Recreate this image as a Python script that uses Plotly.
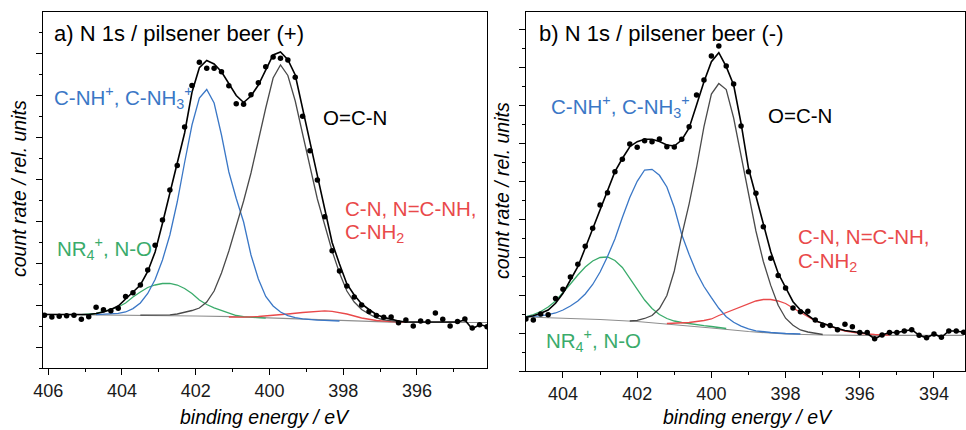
import plotly.graph_objects as go

# ---------------- panel a) pilsener beer (+) ----------------
A_E = [406.1, 405.9, 405.7, 405.5, 405.3, 405.1, 404.9, 404.7, 404.5, 404.3, 404.1,
       403.9, 403.7, 403.5, 403.3, 403.1, 402.9, 402.7, 402.5, 402.3, 402.1,
       401.9, 401.7, 401.5, 401.3, 401.1, 400.9, 400.7, 400.5, 400.3, 400.1,
       399.9, 399.7, 399.5, 399.3, 399.1, 398.9, 398.7, 398.5, 398.3, 398.1,
       397.9, 397.7, 397.5, 397.3, 397.1, 396.9, 396.7, 396.5, 396.3, 396.1,
       395.9, 395.7, 395.5, 395.3, 395.1, 394.9, 394.7, 394.5, 394.3, 394.1]
A_counts = [52.7, 51.0, 51.8, 52.2, 52.8, 48.7, 51.3, 60.7, 58.3, 57.3, 59.7,
            71.5, 75.2, 83.0, 98.0, 122.7, 148.0, 178.0, 202.5, 241.0, 282.5,
            305.8, 299.8, 299.7, 296.3, 282.2, 264.3, 263.7, 273.3, 285.3, 301.3,
            311.0, 309.7, 308.0, 290.7, 251.7, 217.3, 188.0, 151.3, 117.3, 97.0,
            82.0, 71.0, 63.0, 56.5, 52.5, 50.7, 51.0, 45.3, 48.0, 42.0,
            47.0, 46.3, 55.0, 48.7, 42.0, 46.5, 49.0, 40.0, 43.3, 41.3]
A_envelope = [53.5, 53.5, 53.5, 53.5, 53.3, 53.2, 53.5, 54.5, 56.0, 58.5, 62.0,
              69.0, 76.0, 83.0, 96.5, 116.0, 144.7, 174.7, 203.2, 235.0, 275.7,
              300.3, 307.5, 304.0, 296.2, 284.0, 272.5, 265.5, 272.0, 283.0, 298.0,
              313.0, 316.0, 308.4, 293.0, 258.3, 226.0, 192.3, 159.0, 125.5, 104.0,
              84.0, 73.0, 64.0, 58.5, 53.5, 50.6, 48.5, 47.0, 46.0, 46.0,
              46.0, 46.0, 46.0, 46.0, 46.0, 46.0, 48.0, 39.0, 43.5, 41.5]

A_bg_E = [406.1, 404.5, 403.0, 402.0, 401.0, 400.0, 399.0, 398.0, 397.0, 396.5, 394.1]
A_bg = [53.7, 53.3, 52.6, 52.0, 51.3, 50.0, 48.5, 47.0, 46.0, 45.7, 45.5]

A_blue_E = [404.7, 404.5, 404.3, 404.1, 403.9, 403.7, 403.5, 403.3, 403.1, 402.9, 402.7,
            402.5, 402.3, 402.1, 401.9, 401.7, 401.5, 401.3, 401.1, 400.9, 400.7,
            400.5, 400.3, 400.1, 399.9, 399.7, 399.5, 399.3, 399.1, 398.9, 398.7,
            398.5, 398.3, 398.1]
A_blue = [53.4, 53.6, 54.0, 54.6, 56.0, 59.4, 65.0, 74.5, 88.5, 108.0, 133.0,
          166.0, 205.5, 243.0, 270.0, 278.5, 265.0, 233.0, 196.0, 169.5, 146.0,
          113.0, 89.0, 71.5, 62.0, 56.0, 52.4, 50.4, 49.2, 48.4, 47.9,
          47.6, 47.3, 47.0]

A_gray_E = [403.5, 403.1, 402.7, 402.5, 402.3, 402.1, 401.9, 401.7, 401.5, 401.3, 401.1,
            400.9, 400.7, 400.5, 400.3, 400.1, 399.9, 399.7, 399.5, 399.3, 399.1,
            398.9, 398.7, 398.5, 398.3, 398.1, 397.9, 397.7, 397.5, 397.3, 397.1,
            396.9, 396.7, 396.5, 396.3]
A_gray = [52.9, 52.7, 53.2, 54.0, 55.5, 57.5, 60.0, 66.0, 77.0, 95.0, 117.0,
          141.0, 167.0, 195.0, 228.0, 260.0, 290.0, 303.0, 292.5, 267.0, 234.0,
          201.0, 169.0, 143.0, 117.0, 95.0, 77.0, 66.0, 58.5, 54.0, 50.2,
          48.2, 47.0, 46.3, 45.8]

A_green_E = [405.1, 404.9, 404.7, 404.5, 404.3, 404.1, 403.9, 403.7, 403.5, 403.3, 403.1,
             402.9, 402.7, 402.5, 402.3, 402.1, 401.9, 401.7, 401.5, 401.3, 401.1,
             400.9, 400.7, 400.5, 400.3, 400.1]
A_green = [53.3, 53.6, 54.5, 56.5, 58.5, 61.0, 65.0, 71.0, 76.0, 80.5, 83.0,
           84.5, 84.7, 83.0, 79.5, 74.5, 68.0, 63.5, 60.2, 57.5, 54.5,
           52.5, 51.3, 50.6, 50.2, 49.8]

A_red_E = [401.1, 400.7, 400.3, 399.9, 399.5, 399.1, 398.7, 398.5, 398.3, 397.9, 397.5,
           397.1, 396.7, 396.3]
A_red = [51.0, 50.8, 51.5, 52.5, 54.0, 55.5, 57.0, 57.2, 56.7, 54.0, 50.0,
         47.5, 46.3, 45.7]

# ---------------- panel b) pilsener beer (-) ----------------
B_E = [405.0, 404.8, 404.6, 404.4, 404.2, 404.0, 403.8, 403.6, 403.4, 403.2,
       403.0, 402.8, 402.6, 402.4, 402.2, 402.0, 401.8, 401.6, 401.4, 401.2,
       401.0, 400.8, 400.6, 400.4, 400.2, 400.0, 399.8, 399.6, 399.4, 399.2,
       399.0, 398.8, 398.6, 398.4, 398.2, 398.0, 397.8, 397.6, 397.4, 397.2,
       397.0, 396.8, 396.6, 396.4, 396.2, 396.0, 395.8, 395.6, 395.4, 395.2,
       395.0, 394.8, 394.6, 394.4, 394.2, 394.0, 393.8, 393.6, 393.4, 393.2]
B_counts = [52.0, 51.0, 57.0, 56.3, 72.5, 81.8, 94.0, 106.8, 124.7, 142.7,
            166.0, 178.3, 199.3, 211.7, 227.0, 223.7, 230.3, 229.3, 232.0, 224.3,
            224.0, 231.7, 244.3, 276.0, 291.0, 315.0, 325.0, 305.0, 287.0, 245.0,
            199.3, 177.7, 144.3, 112.7, 95.5, 83.0, 63.0, 59.3, 59.7, 51.0,
            45.7, 45.5, 41.3, 46.7, 44.3, 38.5, 38.5, 32.3, 36.0, 38.5,
            38.5, 40.0, 41.3, 35.7, 33.2, 37.0, 33.7, 40.0, 40.0, 38.7]
B_envelope = [53.7, 55.3, 57.7, 61.0, 67.7, 77.7, 91.0, 104.3, 123.0, 142.5,
              161.5, 181.0, 199.3, 212.5, 224.3, 229.3, 231.7, 231.7, 229.5, 226.0,
              225.0, 231.0, 243.0, 266.0, 289.3, 309.3, 318.3, 304.3, 286.0, 247.7,
              202.7, 175.0, 146.0, 119.3, 97.7, 82.7, 69.3, 61.0, 56.0, 50.3,
              47.7, 45.0, 42.5, 40.5, 39.3, 38.5, 37.5, 32.3, 36.0, 38.5,
              38.5, 40.0, 41.3, 35.7, 33.2, 37.0, 33.7, 40.0, 40.0, 38.7]

B_bg_E = [405.0, 404.0, 403.0, 402.0, 401.0, 400.0, 399.0, 398.0, 397.0, 396.0, 393.2]
B_bg = [54.0, 53.0, 51.5, 49.5, 46.5, 43.0, 39.5, 37.0, 36.0, 35.7, 35.7]

B_blue_E = [405.0, 404.8, 404.6, 404.4, 404.2, 404.0, 403.8, 403.6, 403.4, 403.2,
            403.0, 402.8, 402.6, 402.4, 402.2, 402.0, 401.8, 401.6, 401.4, 401.2,
            401.0, 400.8, 400.6, 400.4, 400.2, 400.0, 399.8, 399.6, 399.4, 399.2,
            399.0, 398.8, 398.6, 398.4, 398.0, 397.6]
B_blue = [54.3, 54.6, 55.2, 56.3, 58.0, 61.0, 65.0, 70.0, 77.0, 86.5,
          99.0, 114.5, 132.0, 153.5, 173.5, 189.7, 201.0, 201.7, 195.7, 184.0,
          163.5, 136.5, 116.4, 98.5, 84.5, 73.3, 62.7, 54.3, 48.7, 44.8,
          42.1, 40.2, 39.3, 38.5, 37.5, 37.0]

B_gray_E = [402.2, 402.0, 401.8, 401.6, 401.4, 401.2, 401.0, 400.8, 400.6, 400.4,
            400.2, 400.0, 399.8, 399.6, 399.4, 399.2, 399.0, 398.8, 398.6, 398.4,
            398.2, 398.0, 397.8, 397.6, 397.4, 397.2, 397.0]
B_gray = [50.0, 50.7, 52.5, 55.5, 62.5, 75.5, 100.0, 135.5, 167.2, 203.5,
          244.4, 277.0, 287.5, 281.5, 253.0, 215.5, 175.7, 140.0, 109.5, 85.6,
          65.7, 52.8, 45.8, 41.0, 39.0, 37.5, 36.5]

B_green_E = [405.0, 404.8, 404.6, 404.4, 404.2, 404.0, 403.8, 403.6, 403.4, 403.2,
             403.0, 402.8, 402.6, 402.4, 402.2, 402.0, 401.8, 401.6, 401.4, 401.2,
             401.0, 400.8, 400.6, 400.4, 400.2, 400.0, 399.6]
B_green = [54.3, 56.5, 59.5, 64.0, 70.0, 78.0, 87.0, 96.0, 104.0, 110.0,
           113.5, 114.0, 110.5, 103.5, 93.0, 81.5, 71.0, 62.5, 56.5, 52.5,
           50.0, 48.5, 47.2, 46.2, 45.3, 44.5, 42.5]

B_red_E = [401.2, 400.6, 400.2, 400.0, 399.8, 399.6, 399.4, 399.2, 399.0, 398.8,
           398.6, 398.4, 398.2, 398.0, 397.8, 397.6, 397.4, 397.2, 397.0, 396.8,
           396.6, 396.4, 396.2, 396.0, 395.6, 395.2]
B_red = [47.5, 48.5, 50.5, 52.0, 55.5, 58.5, 61.5, 64.5, 67.5, 70.0,
         71.5, 71.5, 70.0, 67.5, 63.0, 58.5, 54.0, 50.0, 47.5, 44.5,
         42.0, 40.0, 38.7, 37.7, 36.5, 36.0]

# ---------------- styling ----------------
W, H = 966, 430
FONT = "Liberation Sans, Arial, sans-serif"
C_BLUE = "#3a77c6"
C_GREEN = "#3aab6b"
C_RED = "#e9494a"
C_DARK = "#4a4a4a"
C_BG = "#8e8e8e"

fig = go.Figure()


def add_panel(xa, ya, bgE, bg, green_E, green, red_E, red, blue_E, blue,
              gray_E, gray, E, env, counts):
    ax = dict(xaxis=xa, yaxis=ya, mode="lines", showlegend=False, hoverinfo="skip")
    fig.add_trace(go.Scatter(x=bgE, y=bg, line=dict(color=C_BG, width=1.2), **ax))
    fig.add_trace(go.Scatter(x=green_E, y=green, line=dict(color=C_GREEN, width=1.3), **ax))
    fig.add_trace(go.Scatter(x=red_E, y=red, line=dict(color=C_RED, width=1.3), **ax))
    fig.add_trace(go.Scatter(x=blue_E, y=blue, line=dict(color=C_BLUE, width=1.3), **ax))
    fig.add_trace(go.Scatter(x=gray_E, y=gray, line=dict(color=C_DARK, width=1.3), **ax))
    fig.add_trace(go.Scatter(x=E, y=env, line=dict(color="black", width=1.6), **ax))
    fig.add_trace(go.Scatter(x=E, y=counts, xaxis=xa, yaxis=ya, mode="markers",
                             marker=dict(color="black", size=5.5), showlegend=False,
                             hoverinfo="skip"))


add_panel("x", "y", A_bg_E, A_bg, A_green_E, A_green, A_red_E, A_red,
          A_blue_E, A_blue, A_gray_E, A_gray, A_E, A_envelope, A_counts)
add_panel("x2", "y2", B_bg_E, B_bg, B_green_E, B_green, B_red_E, B_red,
          B_blue_E, B_blue, B_gray_E, B_gray, B_E, B_envelope, B_counts)


def xaxis_cfg(dom, rng):
    return dict(domain=dom, range=rng, showgrid=False, zeroline=False, automargin=False,
                showline=True, mirror=True, linecolor="black", linewidth=1.3,
                ticks="outside", ticklen=6, tickwidth=1.2, tickcolor="black",
                tick0=400, dtick=2,
                minor=dict(ticks="outside", ticklen=3, tickwidth=1.1,
                           tickcolor="black", dtick=1, showgrid=False),
                tickfont=dict(family=FONT, size=18, color="#1a1a1a"))


def yaxis_cfg(dom, rng, t0, dt):
    return dict(domain=dom, range=rng, showgrid=False, zeroline=False, automargin=False,
                showline=True, mirror=True, linecolor="black", linewidth=1.3,
                ticks="outside", ticklen=6, tickwidth=1.2, tickcolor="black",
                tick0=t0, dtick=dt, showticklabels=False,
                minor=dict(ticks="outside", ticklen=3, tickwidth=1.1,
                           tickcolor="black", dtick=dt / 2, showgrid=False))


fig.update_layout(
    width=W, height=H,
    margin=dict(l=0, r=0, t=0, b=0, pad=0, autoexpand=False),
    paper_bgcolor="white", plot_bgcolor="white",
    xaxis=xaxis_cfg([43 / W, 487 / W], [406.14, 394.1]),
    yaxis=yaxis_cfg([1 - 368 / H, 1 - 12 / H], [0, 356], 21, 42),
    xaxis2=dict(xaxis_cfg([526 / W, 965 / W], [404.997, 393.164]), anchor="y2"),
    yaxis2=dict(yaxis_cfg([1 - 371 / H, 1 - 12 / H], [0, 359], 0, 38), anchor="x2"),
)


def note(px, py, text, color="black", size=20.5, anchor="left", angle=0, italic=False):
    fig.add_annotation(x=px / W, y=1 - py / H, xref="paper", yref="paper",
                       text=text, showarrow=False, xanchor=anchor, yanchor="middle",
                       textangle=angle, borderpad=0,
                       font=dict(family=FONT, size=size, color=color,
                                 style="italic" if italic else "normal"))


# panel a labels
note(53, 33, "a) N 1s / pilsener beer (+)", size=22)
note(53, 97, "C-NH<sup>+</sup>, C-NH<sub>3</sub><sup>+</sup>", C_BLUE)
note(322, 117, "O=C-N")
note(344, 208, "C-N, N=C-NH,", C_RED)
note(344, 233, "C-NH<sub>2</sub>", C_RED)
note(56, 248, "NR<sub>4</sub><sup>+</sup>, N-O", C_GREEN)

# panel b labels
note(538, 33, "b) N 1s / pilsener beer (-)", size=22)
note(550, 106, "C-NH<sup>+</sup>, C-NH<sub>3</sub><sup>+</sup>", C_BLUE)
note(767, 115, "O=C-N")
note(797, 237, "C-N, N=C-NH,", C_RED)
note(797, 262, "C-NH<sub>2</sub>", C_RED)
note(545, 340, "NR<sub>4</sub><sup>+</sup>, N-O", C_GREEN)

# axis titles
note(265, 417, "binding energy / eV", size=19.5, anchor="center", italic=True)
note(748, 417, "binding energy / eV", size=19.5, anchor="center", italic=True)
note(19, 189, "count rate / rel. units", size=19.5, anchor="center", angle=-90, italic=True)
note(502, 190, "count rate / rel. units", size=19.5, anchor="center", angle=-90, italic=True)

fig.write_html("out.html")
